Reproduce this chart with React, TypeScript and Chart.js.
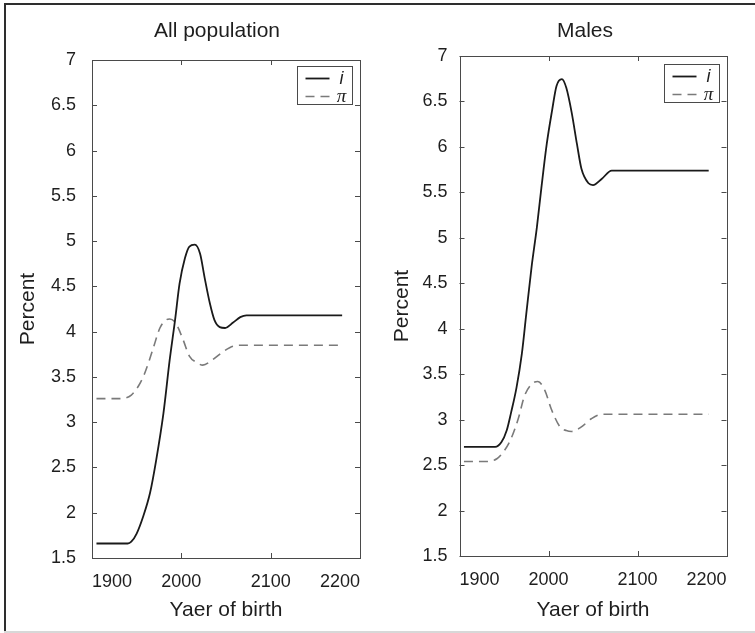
import React, { useEffect, useRef } from "react";
import { Chart, registerables } from "chart.js";

Chart.register(...registerables);

// ---- axis ticks ----
const xTickValues = [1900, 2000, 2100, 2200];
const yTickValues = [1.5, 2, 2.5, 3, 3.5, 4, 4.5, 5, 5.5, 6, 6.5, 7];

// ---- series labels ----
const seriesLabels = ["i", "π"];

// ---- All population ----
const allYearsI = [1905, 1940, 1944, 1950, 1957, 1965, 1972, 1980, 1987, 1993, 1998, 2004, 2009, 2015, 2021, 2026, 2032, 2037, 2043, 2049, 2058, 2066, 2073, 2180];
const allValuesI = [1.66, 1.66, 1.68, 1.77, 1.95, 2.22, 2.59, 3.10, 3.69, 4.13, 4.53, 4.81, 4.94, 4.96, 4.86, 4.60, 4.31, 4.13, 4.05, 4.04, 4.10, 4.16, 4.18, 4.18];
const allYearsPi = [1905, 1933, 1944, 1952, 1959, 1968, 1976, 1983, 1987, 1994, 2002, 2009, 2017, 2024, 2035, 2047, 2058, 2069, 2180];
const allValuesPi = [3.26, 3.26, 3.30, 3.40, 3.54, 3.80, 4.04, 4.13, 4.14, 4.09, 3.91, 3.73, 3.66, 3.63, 3.69, 3.78, 3.84, 3.85, 3.85];

// ---- Males ----
const maleYearsI = [1905, 1940, 1947, 1953, 1958, 1964, 1970, 1975, 1981, 1987, 1992, 1998, 2004, 2009, 2015, 2020, 2026, 2032, 2037, 2045, 2050, 2060, 2071, 2180];
const maleValuesI = [2.70, 2.70, 2.75, 2.88, 3.08, 3.35, 3.72, 4.16, 4.68, 5.12, 5.55, 6.03, 6.40, 6.67, 6.745, 6.65, 6.38, 6.03, 5.76, 5.60, 5.58, 5.65, 5.74, 5.74];
const maleYearsPi = [1905, 1932, 1942, 1949, 1957, 1966, 1973, 1981, 1988, 1996, 2003, 2013, 2020, 2026, 2037, 2048, 2060, 2180];
const maleValuesPi = [2.54, 2.54, 2.57, 2.64, 2.77, 3.01, 3.26, 3.39, 3.42, 3.32, 3.12, 2.92, 2.88, 2.87, 2.92, 3.01, 3.06, 3.06];

const FONT = '"Liberation Sans", Arial, Helvetica, sans-serif';
const TEXT = "#1e1e1e";

const pairs = (xs: number[], ys: number[]) => xs.map((x, i) => ({ x, y: ys[i] }));

const boxPlugin = {
  id: "matlabBox",
  afterDraw(chart: any, _args: any, opts: any) {
    const { ctx, chartArea } = chart;
    const { left, right, top, bottom } = chartArea;
    const xs = chart.scales.x;
    const ys = chart.scales.y;
    ctx.save();
    // frame
    ctx.strokeStyle = "#4a4a4a";
    ctx.lineWidth = 1;
    ctx.strokeRect(Math.round(left) + 0.5, Math.round(top) + 0.5, Math.round(right - left), Math.round(bottom - top));
    // inward ticks
    const tl = 5;
    ctx.beginPath();
    for (const t of xTickValues) {
      const px = Math.round(xs.getPixelForValue(t)) + 0.5;
      ctx.moveTo(px, bottom);
      ctx.lineTo(px, bottom - tl);
      ctx.moveTo(px, top);
      ctx.lineTo(px, top + tl);
    }
    for (const t of yTickValues) {
      const py = Math.round(ys.getPixelForValue(t)) + 0.5;
      ctx.moveTo(left, py);
      ctx.lineTo(left + tl, py);
      ctx.moveTo(right, py);
      ctx.lineTo(right - tl, py);
    }
    ctx.stroke();

    // legend box
    const bw = 55, bh = 38;
    const bx = Math.round(right - opts.legendRight - bw) + 0.5;
    const by = Math.round(top + opts.legendTop) + 0.5;
    ctx.fillStyle = "#ffffff";
    ctx.fillRect(bx, by, bw, bh);
    ctx.strokeStyle = "#4a4a4a";
    ctx.strokeRect(bx, by, bw, bh);
    const rows = [12, 30];
    chart.data.datasets.forEach((ds: any, i: number) => {
      const ly = by + rows[i];
      ctx.beginPath();
      ctx.strokeStyle = ds.borderColor;
      ctx.lineWidth = ds.borderWidth;
      ctx.setLineDash(ds.borderDash || []);
      ctx.moveTo(bx + 8, ly);
      ctx.lineTo(bx + 32, ly);
      ctx.stroke();
      ctx.setLineDash([]);
      ctx.fillStyle = TEXT;
      ctx.textAlign = "center";
      ctx.textBaseline = "middle";
      ctx.font = i === 0 ? `italic 18px ${FONT}` : 'italic 19px "Liberation Serif", "Times New Roman", serif';
      ctx.fillText(ds.label, bx + 44, ly);
    });

    // title
    ctx.fillStyle = TEXT;
    ctx.font = `21px ${FONT}`;
    ctx.textAlign = "center";
    ctx.textBaseline = "middle";
    ctx.fillText(opts.title, (left + right) / 2 + opts.titleDx, opts.titleY);
    ctx.restore();
  },
};

type PanelProps = {
  title: string;
  yearsI: number[];
  valuesI: number[];
  yearsPi: number[];
  valuesPi: number[];
  width: number;
  axisWidth: number;
  axisHeight: number;
  padTop: number;
  padRight: number;
  yTitlePad: number;
  yTickPad: number;
  titleDx: number;
  legendTop: number;
};

function Panel(p: PanelProps) {
  const ref = useRef<HTMLCanvasElement | null>(null);
  useEffect(() => {
    if (!ref.current) return;
    const chart = new Chart(ref.current, {
      type: "line",
      data: {
        datasets: [
          {
            label: seriesLabels[0],
            data: pairs(p.yearsI, p.valuesI),
            borderColor: "#1a1a1a",
            borderWidth: 1.8,
            pointRadius: 0,
            cubicInterpolationMode: "monotone",
            fill: false,
          },
          {
            label: seriesLabels[1],
            data: pairs(p.yearsPi, p.valuesPi),
            borderColor: "#7a7a7a",
            borderWidth: 1.6,
            borderDash: [9, 6],
            pointRadius: 0,
            cubicInterpolationMode: "monotone",
            fill: false,
          },
        ],
      },
      options: {
        animation: false,
        responsive: false,
        devicePixelRatio: 1,
        layout: { padding: { top: p.padTop, right: p.padRight, bottom: 0, left: 0 } },
        plugins: {
          legend: { display: false },
          tooltip: { enabled: false },
          title: { display: false },
          matlabBox: { title: p.title, titleDx: p.titleDx, titleY: 31, legendRight: 8, legendTop: p.legendTop },
        } as any,
        scales: {
          x: {
            type: "linear",
            min: 1900,
            max: 2200,
            grid: { display: false, drawTicks: false },
            border: { display: false },
            afterBuildTicks: (scale: any) => {
              scale.ticks = xTickValues.map((v) => ({ value: v }));
            },
            afterFit: (scale: any) => {
              scale.height = p.axisHeight;
            },
            ticks: {
              padding: 13,
              align: "inner",
              color: TEXT,
              font: { family: FONT, size: 18 },
              maxRotation: 0,
              callback: (v: any) => String(v),
            },
            title: {
              display: true,
              text: "Yaer of birth",
              color: TEXT,
              font: { family: FONT, size: 21 },
              padding: { top: 0, bottom: 10 },
            },
          },
          y: {
            type: "linear",
            min: 1.5,
            max: 7,
            grid: { display: false, drawTicks: false },
            border: { display: false },
            afterBuildTicks: (scale: any) => {
              scale.ticks = yTickValues.map((v) => ({ value: v }));
            },
            afterFit: (scale: any) => {
              scale.width = p.axisWidth;
            },
            ticks: {
              padding: p.yTickPad,
              color: TEXT,
              font: { family: FONT, size: 18 },
              callback: (v: any) => String(v),
            },
            title: {
              display: true,
              text: "Percent",
              color: TEXT,
              font: { family: FONT, size: 21 },
              padding: { top: p.yTitlePad, bottom: 0 },
            },
          },
        },
      },
      plugins: [boxPlugin],
    } as any);
    return () => chart.destroy();
  }, []);
  return <canvas ref={ref} width={p.width} height={633} style={{ width: p.width, height: 633, display: "block" }} />;
}

export default function App() {
  return (
    <div style={{ position: "absolute", left: 0, top: 0, width: 755, height: 633, background: "#fff", overflow: "hidden" }}>
      <div style={{ position: "absolute", left: 4, top: 3, width: 751, height: 2, background: "#2e2e2e" }} />
      <div style={{ position: "absolute", left: 4, top: 3, width: 2, height: 629, background: "#2e2e2e" }} />
      <div style={{ position: "absolute", left: 4, top: 631, width: 751, height: 2, background: "#d8d8d8" }} />
      <div style={{ position: "absolute", left: 0, top: 0 }}>
        <Panel
          title="All population"
          yearsI={allYearsI}
          valuesI={allValuesI}
          yearsPi={allYearsPi}
          valuesPi={allValuesPi}
          width={390}
          axisWidth={92}
          axisHeight={75}
          padTop={60}
          padRight={30}
          yTitlePad={15.5}
          yTickPad={16}
          titleDx={-9}
          legendTop={6}
        />
      </div>
      <div style={{ position: "absolute", left: 370, top: 0 }}>
        <Panel
          title="Males"
          yearsI={maleYearsI}
          valuesI={maleValuesI}
          yearsPi={maleYearsPi}
          valuesPi={maleValuesPi}
          width={385}
          axisWidth={89.5}
          axisHeight={77}
          padTop={56}
          padRight={28.5}
          yTitlePad={19.5}
          yTickPad={12}
          titleDx={-8}
          legendTop={8}
        />
      </div>
    </div>
  );
}
